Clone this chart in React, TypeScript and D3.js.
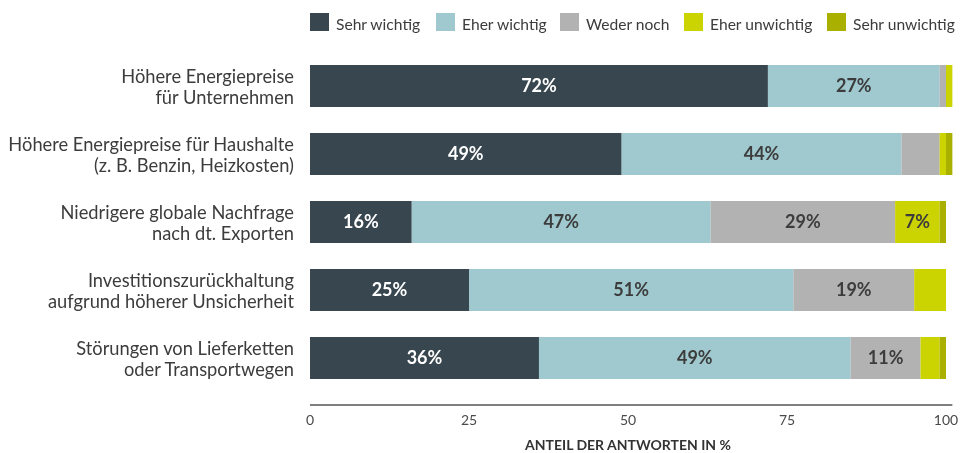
import React, { useEffect, useRef } from 'react';
import * as d3 from 'd3';

const categories = [
  ['Höhere Energiepreise', 'für Unternehmen'],
  ['Höhere Energiepreise für Haushalte', '(z. B. Benzin, Heizkosten)'],
  ['Niedrigere globale Nachfrage', 'nach dt. Exporten'],
  ['Investitionszurückhaltung', 'aufgrund höherer Unsicherheit'],
  ['Störungen von Lieferketten', 'oder Transportwegen'],
];

const seriesNames = ['Sehr wichtig', 'Eher wichtig', 'Weder noch', 'Eher unwichtig', 'Sehr unwichtig'];

const sehrWichtig = [72, 49, 16, 25, 36];
const eherWichtig = [27, 44, 47, 51, 49];
const wederNoch = [1, 6, 29, 19, 11];
const eherUnwichtig = [1, 1, 7, 5, 3];
const sehrUnwichtig = [0, 1, 1, 0, 1];

const xTicks = [0, 25, 50, 75, 100];

const colors = ['#37464f', '#9fc9cf', '#b2b2b2', '#cbd300', '#a9b000'];
const labelColors = ['#ffffff', '#3c3c3c', '#3c3c3c', '#3c3c3c', '#3c3c3c'];

const FONT = 'Lato, "Open Sans", sans-serif';

export default function App() {
  const ref = useRef<SVGSVGElement>(null);

  useEffect(() => {
    if (!ref.current) return;
    const svg = d3.select(ref.current);
    svg.selectAll('*').remove();

    const x = d3.scaleLinear().domain([0, 100]).range([310, 946]);
    const y = d3.scaleBand<number>()
      .domain(d3.range(categories.length))
      .range([65 - 13, 379 + 13])
      .paddingInner(26 / 68)
      .paddingOuter(13 / 68);

    const values = [sehrWichtig, eherWichtig, wederNoch, eherUnwichtig, sehrUnwichtig];

    // Legend
    const legendX = [310, 436, 560, 684, 827];
    const legend = svg.append('g');
    seriesNames.forEach((name, i) => {
      legend.append('rect')
        .attr('x', legendX[i]).attr('y', 13)
        .attr('width', 19).attr('height', 18)
        .attr('fill', colors[i]);
      legend.append('text')
        .attr('x', legendX[i] + 26).attr('y', 30)
        .attr('font-size', 15.6)
        .attr('fill', '#3c3c3c')
        .text(name);
    });

    // Bars
    categories.forEach((lines, ci) => {
      let acc = 0;
      const by = y(ci)!;
      const bh = y.bandwidth();
      values.forEach((arr, si) => {
        const v = arr[ci];
        const x0 = x(acc);
        const x1 = x(acc + v);
        acc += v;
        if (v <= 0) return;
        svg.append('rect')
          .attr('x', x0).attr('y', by)
          .attr('width', x1 - x0).attr('height', bh)
          .attr('fill', colors[si]);
        if (v >= 7) {
          svg.append('text')
            .attr('x', (x0 + x1) / 2).attr('y', by + bh / 2)
            .attr('dy', '0.36em')
            .attr('text-anchor', 'middle')
            .attr('font-size', 18)
            .attr('font-weight', 700)
            .attr('fill', labelColors[si])
            .text(`${v}%`);
        }
      });

      // Category label
      const t = svg.append('text')
        .attr('text-anchor', 'end')
        .attr('font-size', 18.3)
        .attr('fill', '#3c3c3c');
      lines.forEach((line, li) => {
        t.append('tspan')
          .attr('x', 294)
          .attr('y', by + bh / 2 + (li === 0 ? -3 : 18))
          .text(line);
      });
    });

    // Axis
    const axisY = 405;
    svg.append('line')
      .attr('x1', x(0)).attr('x2', x(101))
      .attr('y1', axisY).attr('y2', axisY)
      .attr('stroke', '#555').attr('stroke-width', 1.3);

    svg.append('g')
      .selectAll('text')
      .data(xTicks)
      .enter()
      .append('text')
      .attr('x', d => x(d))
      .attr('y', 425)
      .attr('text-anchor', 'middle')
      .attr('font-size', 14)
      .attr('fill', '#4a4a4a')
      .text(d => d);

    svg.append('text')
      .attr('x', (x(0) + x(100)) / 2)
      .attr('y', 450)
      .attr('text-anchor', 'middle')
      .attr('font-size', 14)
      .attr('font-weight', 700)
      .attr('fill', '#333')
      .text('ANTEIL DER ANTWORTEN IN %');
  }, []);

  return (
    <svg
      ref={ref}
      width={960}
      height={453}
      style={{ position: 'fixed', left: 0, top: 0, display: 'block', fontFamily: FONT }}
    />
  );
}
